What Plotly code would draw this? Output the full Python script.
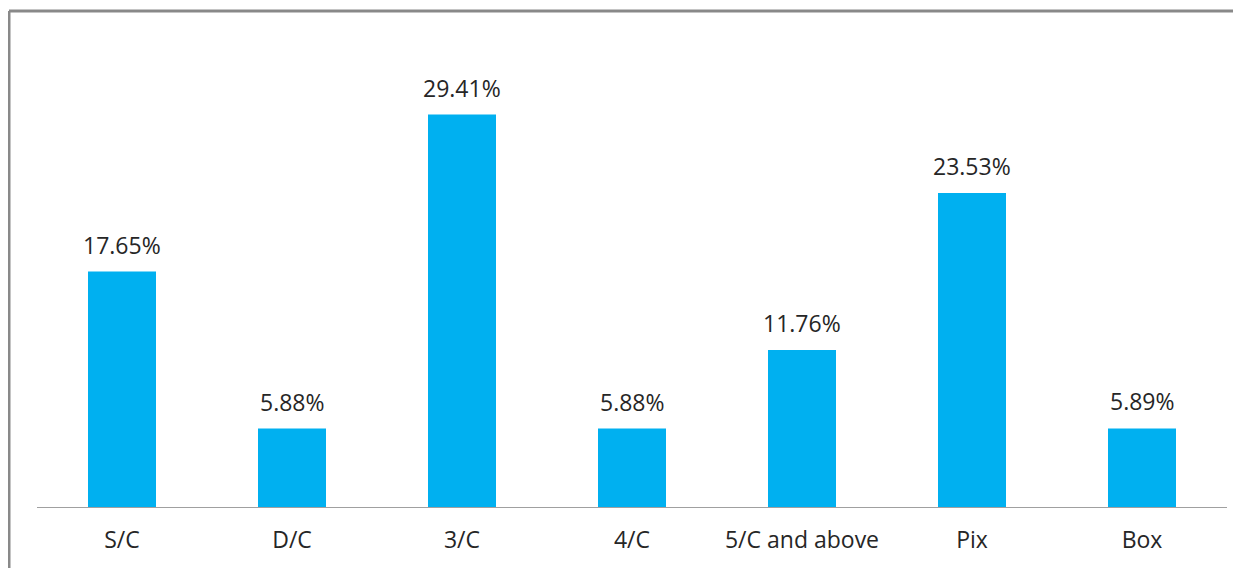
import plotly.graph_objects as go

categories = ["S/C", "D/C", "3/C", "4/C", "5/C and above", "Pix", "Box"]
values = [17.65, 5.88, 29.41, 5.88, 11.76, 23.53, 5.89]
labels = ["17.65%", "5.88%", "29.41%", "5.88%", "11.76%", "23.53%", "5.89%"]

OFF = 8  # page body offset
W, H = 1241, 568
ML, MT = 37 - OFF, 40 - OFF
pw, ph = 1190, 467
MR = W - ML - pw
MB = H - MT - ph

fig = go.Figure(go.Bar(x=categories, y=values, marker=dict(color="#00B0F0", line=dict(width=0)),
                       hoverinfo="skip"))

for c, v, t in zip(categories, values, labels):
    fig.add_annotation(x=c, y=v, text=t, showarrow=False, yanchor="middle", yshift=27,
                       font=dict(family="Open Sans", size=23, color="#262626"))

# frame (left and top border)
x_left = (8 - OFF - ML + 1) / pw
y_top = (MT + ph - (11 - OFF)) / ph
fig.add_shape(type="line", xref="paper", yref="paper", x0=x_left, x1=x_left, y0=y_top, y1=-(MB + 5) / ph,
              line=dict(color="#898989", width=3))
fig.add_shape(type="line", xref="paper", yref="paper", x0=x_left, x1=(W - ML + 5) / pw, y0=y_top, y1=y_top,
              line=dict(color="#898989", width=3))

fig.update_layout(
    width=W, height=H,
    margin=dict(l=ML, r=MR, t=MT, b=MB, pad=0),
    paper_bgcolor="white", plot_bgcolor="white",
    bargap=0.6, showlegend=False,
    font=dict(family="Open Sans", size=23, color="#262626"),
    xaxis=dict(showline=True, linecolor="#A0A0A0", linewidth=1, ticks="outside", ticklen=12,
               tickcolor="rgba(0,0,0,0)", showgrid=False, tickfont=dict(size=23, color="#262626")),
    yaxis=dict(range=[0, 35], visible=False, showgrid=False),
)

fig.write_html("out.html")
